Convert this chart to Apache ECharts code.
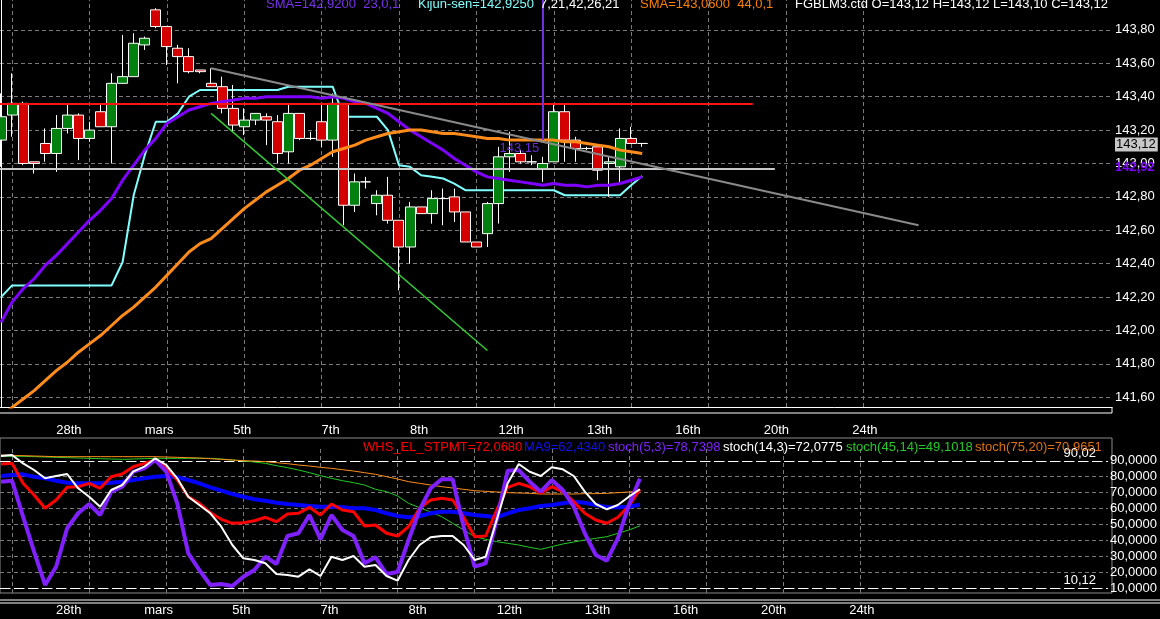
<!DOCTYPE html>
<html>
<head>
<meta charset="utf-8">
<script src="https://cdn.jsdelivr.net/npm/echarts@6/dist/echarts.min.js"></script>
<style>
  html, body { margin: 0; background: #000; }
  #chart { width: 1160px; height: 619px; }
</style>
</head>
<body>
<div id="chart"></div>
<script>
// time axis: bar slots 0..100, 59 traded bars, the rest is empty future space
const slotMin = -0.093;
const slotMax = 100.5;
const labelBars = [5, 13, 21, 29, 37, 45, 53, 61, 69, 77];
const dateLabels = ['28th', 'mars', '5th', '7th', '8th', '12th', '13th', '16th', '20th', '24th'];
const gridBars = [1, 8, 15, 22, 29, 36, 43, 50, 57, 64, 71, 78];

// FGBLM3 candles
const opens = [143.14,143.29,143.36,143.01,143.12,143.06,143.21,143.29,143.15,143.31,
  143.22,143.48,143.52,143.71,143.92,143.82,143.69,143.64,143.56,143.48,
  143.46,143.33,143.22,143.26,143.28,143.25,143.07,143.30,143.15,143.25,
  143.14,143.36,142.75,142.89,142.76,142.81,142.66,142.50,142.74,142.70,
  142.79,142.80,142.71,142.53,142.58,142.76,143.04,143.06,143.01,142.97,
  143.01,143.31,143.14,143.09,143.10,143.00,142.98,143.15,143.12];
const highs = [143.42,143.54,143.37,143.01,143.21,143.29,143.36,143.30,143.25,143.36,
  143.54,143.77,143.78,143.76,143.93,143.82,143.71,143.69,143.56,143.57,
  143.52,143.47,143.33,143.30,143.30,143.29,143.35,143.30,143.19,143.35,
  143.42,143.36,142.94,142.92,142.84,142.92,142.66,142.77,142.74,142.84,
  142.85,142.85,142.71,142.53,142.77,143.10,143.19,143.08,143.05,143.04,
  143.35,143.35,143.16,143.10,143.10,143.04,143.21,143.22,143.12];
const lows = [142.98,143.16,142.99,142.94,143.01,142.95,143.18,143.02,143.13,143.22,
  143.00,143.48,143.52,143.68,143.81,143.59,143.48,143.54,143.54,143.46,
  143.30,143.19,143.17,143.23,143.11,143.00,143.00,143.14,143.14,143.10,
  143.04,142.63,142.71,142.85,142.69,142.64,142.24,142.40,142.70,142.64,
  142.63,142.65,142.53,142.50,142.50,142.64,142.95,143.00,142.99,142.89,
  143.01,143.01,143.01,143.08,142.90,142.80,142.89,143.12,143.10];
const closes = [143.28,143.36,143.00,143.00,143.06,143.21,143.29,143.15,143.20,143.22,
  143.48,143.52,143.72,143.75,143.82,143.70,143.64,143.55,143.55,143.46,
  143.33,143.23,143.26,143.30,143.26,143.06,143.30,143.15,143.15,143.14,
  143.36,142.75,142.89,142.89,142.81,142.66,142.50,142.74,142.70,142.79,
  142.79,142.71,142.53,142.50,142.76,143.04,143.06,143.01,143.01,143.00,
  143.31,143.14,143.09,143.09,142.96,143.01,143.15,143.12,143.12];

// price overlays
const sma23 = [142.05,142.17,142.25,142.31,142.39,142.45,142.52,142.59,142.66,142.72,
  142.79,142.90,142.99,143.08,143.15,143.24,143.28,143.32,143.34,143.36,
  143.37,143.38,143.39,143.39,143.40,143.40,143.40,143.40,143.40,143.39,
  143.40,143.39,143.37,143.36,143.33,143.30,143.25,143.20,143.16,143.12,
  143.08,143.03,142.99,142.95,142.92,142.91,142.90,142.89,142.88,142.87,
  142.88,142.87,142.87,142.86,142.87,142.87,142.88,142.90,142.92];
const sma44 = [141.48,141.54,141.59,141.64,141.70,141.76,141.81,141.87,141.92,141.97,
  142.03,142.09,142.14,142.20,142.26,142.33,142.40,142.47,142.52,142.55,
  142.61,142.67,142.73,142.78,142.83,142.87,142.91,142.96,142.99,143.03,
  143.07,143.09,143.11,143.14,143.16,143.18,143.19,143.20,143.20,143.19,
  143.18,143.18,143.17,143.16,143.15,143.15,143.14,143.14,143.14,143.14,
  143.14,143.13,143.13,143.12,143.11,143.10,143.08,143.07,143.06];
const kijun = [142.20,142.27,142.27,142.27,142.27,142.27,142.27,142.27,142.27,142.27,
  142.27,142.41,142.81,143.05,143.25,143.25,143.30,143.40,143.44,143.44,
  143.44,143.44,143.44,143.44,143.44,143.44,143.46,143.46,143.46,143.46,
  143.46,143.28,143.28,143.28,143.28,143.20,142.99,142.98,142.93,142.92,
  142.91,142.88,142.84,142.84,142.84,142.84,142.84,142.84,142.84,142.84,
  142.84,142.81,142.81,142.81,142.81,142.81,142.81,142.87,142.925];
const resistance = 143.355;
const support = 142.97;

// oscillator pane
const whs = [87.99,88.41,75.83,68.49,60.13,65.35,73.33,73.71,75.83,72.70,
  80.00,81.70,86.29,88.41,90.50,85.28,77.92,67.42,63.27,57.36,
  53.21,50.69,51.07,52.33,54.47,51.70,56.54,56.98,60.75,55.91,
  62.83,59.06,57.99,48.99,49.62,44.40,42.70,48.55,60.13,65.35,
  66.42,65.35,54.47,42.26,42.70,59.06,73.33,75.83,73.71,69.56,
  73.71,70.57,64.28,56.98,52.77,50.69,54.47,61.57,72.07];
const ma9 = [80.44,81.07,81.49,80.00,78.99,77.48,76.23,75.83,75.83,75.83,
  76.23,76.86,77.92,78.99,80.00,80.44,79.62,77.92,75.83,73.33,
  71.21,69.12,67.42,65.79,64.91,63.65,62.83,62.20,61.57,61.13,
  61.13,60.75,60.13,60.13,59.06,56.98,55.28,54.47,55.28,56.98,
  57.99,57.99,56.98,55.91,55.28,54.47,56.98,59.06,60.13,61.57,
  62.20,63.27,64.28,63.65,62.20,60.75,60.75,61.13,62.43];
const stoch5 = [76.86,77.48,54.84,32.83,11.89,23.40,47.55,56.98,62.83,55.91,
  70.57,73.71,83.14,85.28,90.50,83.14,63.27,31.82,21.32,11.89,
  12.52,11.26,17.11,21.32,29.69,25.09,42.70,44.40,55.91,40.63,
  55.91,46.48,42.70,25.53,29.31,18.81,20.06,40.19,59.06,72.70,
  78.36,78.36,48.55,23.40,25.53,52.77,83.77,84.21,76.86,70.57,
  77.92,71.64,61.13,44.40,30.75,27.17,41.26,62.20,78.74];
const stoch14 = [93.02,93.65,88.41,84.21,78.99,80.44,81.70,72.70,67.42,61.13,
  71.64,74.78,83.14,86.29,91.57,87.36,78.99,67.42,62.20,56.98,
  48.55,37.04,28.68,27.61,25.53,18.81,18.18,17.11,21.76,17.55,
  29.69,27.61,30.13,23.40,24.47,17.55,14.59,27.61,37.04,41.89,
  42.70,42.70,37.04,27.61,29.69,52.77,75.83,87.99,83.14,80.44,
  85.91,84.65,80.44,70.57,62.83,59.50,62.20,67.42,72.08];
const stoch45 = [93.02,92.81,92.81,92.60,92.39,92.18,91.97,91.76,91.55,91.34,
  91.13,90.92,91.13,91.34,91.55,91.55,91.55,91.55,91.55,91.55,
  91.13,90.50,89.87,89.25,88.41,86.94,85.68,84.21,82.54,80.65,
  78.97,77.51,76.25,74.78,72.05,70.59,67.86,63.25,60.52,57.80,
  54.86,50.67,46.48,42.28,40.61,39.14,38.09,37.04,35.58,34.32,
  35.99,37.67,38.93,40.19,41.24,42.28,44.38,46.48,49.10];
const stoch75 = [93.65,93.44,93.23,93.02,92.81,92.60,92.60,92.60,92.60,92.60,
  92.60,92.60,92.60,92.60,92.60,92.39,92.18,91.97,91.76,91.34,
  90.92,90.50,90.08,89.87,89.46,88.83,88.20,87.36,86.73,85.89,
  85.26,84.42,83.58,82.54,81.49,80.02,78.55,76.88,75.83,74.78,
  73.73,72.89,72.05,71.21,70.80,70.38,69.96,69.75,69.54,69.12,
  69.12,69.12,69.12,69.33,69.33,69.54,69.96,70.38,70.97];
const obLevel = 90.02;
const osLevel = 10.12;

const font = "'Liberation Sans', Arial, sans-serif";
const comma = (v, d) => v.toFixed(d).replace('.', ',');
const indexed = arr => arr.map((v, i) => [i, v]);
const candles = opens.map((o, i) => [i, o, closes[i], lows[i], highs[i]]);
const dash = { color: '#7a7a7a', type: [4, 3], width: 1 };
const noLine = { color: 'rgba(0,0,0,0)', width: 1 };

function xAx(grid, margin) {
  return {
    type: 'value', gridIndex: grid, min: slotMin, max: slotMax,
    axisLine: { show: grid === 0, onZero: false, lineStyle: { color: '#fff' } },
    axisTick: { show: false },
    splitLine: { show: false },
    axisLabel: {
      color: '#fff', fontSize: 13, fontFamily: font, align: 'left', margin: margin,
      customValues: labelBars,
      formatter: v => dateLabels[labelBars.indexOf(Math.round(v))] || ''
    }
  };
}

function line(name, data, color, width, z, axis) {
  return {
    name: name, type: 'line', data: indexed(data), xAxisIndex: axis, yAxisIndex: axis,
    symbol: 'none', smooth: false, z: z, silent: true,
    lineStyle: { color: color, width: width }
  };
}

function priceTag(v, text, color, bg, offY, bold) {
  return {
    yAxis: v, lineStyle: noLine,
    label: {
      show: true, position: 'end', distance: 3, formatter: text, color: color,
      backgroundColor: bg || 'transparent', padding: bg ? [1, 2, 0, 1] : 0, fontSize: 13,
      fontFamily: font, fontWeight: bold ? 'bold' : 'normal', offset: [0, offY]
    }
  };
}

const kijunSeries = line('Kijun-sen', kijun, '#80ffff', 2, 1, 0);
kijunSeries.markLine = {
  silent: true, z: 1, symbol: ['none', 'none'], label: { show: false },
  data: gridBars.map(i => ({ xAxis: i, lineStyle: dash }))
};

const candleSeries = {
  name: 'FGBLM3.ctd', type: 'candlestick', data: candles, z: 2, barWidth: 10.5, silent: true,
  itemStyle: {
    color: '#00800f', color0: '#d40000', borderColor: '#ffffff', borderColor0: '#ffffff',
    borderColorDoji: '#ffffff', borderWidth: 1
  },
  markLine: {
    silent: true, z: 4, symbol: ['none', 'none'], label: { show: false },
    data: [
      [{ coord: [slotMin, resistance], lineStyle: { color: '#ff1414', width: 2, type: 'solid' } }, { coord: [68, resistance] }],
      [{ coord: [slotMin, support], lineStyle: { color: '#c8c8c8', width: 2, type: 'solid' } }, { coord: [70, support] }],
      [{ coord: [19, 143.57], lineStyle: { color: '#8a8a8a', width: 2, type: 'solid' } }, { coord: [83, 142.63] }],
      [{ coord: [19, 143.30], lineStyle: { color: '#33cc33', width: 1.5, type: 'solid' } }, { coord: [44, 141.88] }],
      [{ coord: [49, 143.14], lineStyle: { color: '#7030e0', width: 2, type: 'solid' } }, { coord: [49, 143.979] }],
      priceTag(143.06, '143,06', '#ff8c00', null, -8, false),
      priceTag(143.12, '143,12', '#000', '#c8c8c8', 1, false),
      priceTag(142.92, '142,92', '#8000ff', null, -9, true)
    ]
  },
  markPoint: {
    silent: true,
    data: [{
      coord: [49, 143.09], symbol: 'circle', symbolSize: 1, itemStyle: { color: 'rgba(0,0,0,0)' },
      label: { show: true, position: 'left', distance: 3, formatter: '143,15', color: '#6a2ad8', fontSize: 13, fontFamily: font }
    }]
  }
};

const stoch45Series = line('stoch(45,14)', stoch45, '#22cc22', 1, 1, 1);
stoch45Series.markLine = {
  silent: true, z: 1, symbol: ['none', 'none'], label: { show: false },
  data: gridBars.map(i => ({ xAxis: i, lineStyle: dash })).concat([
    { yAxis: obLevel, lineStyle: { color: '#fff', type: [10, 4], width: 1 },
      label: { show: true, position: 'insideEndTop', formatter: '90,02', color: '#fff', fontSize: 13, fontFamily: font, distance: [12, 1] } },
    { yAxis: osLevel, lineStyle: { color: '#fff', type: [10, 4], width: 1 },
      label: { show: true, position: 'insideEndTop', formatter: '10,12', color: '#fff', fontSize: 13, fontFamily: font, distance: [12, 1] } }
  ])
};

function headText(x, y, text, color) {
  return { type: 'text', x: x, y: y, silent: true, z: 10,
    style: { text: text, fill: color, font: '13px ' + font, verticalAlign: 'middle' } };
}

const chart = echarts.init(document.getElementById('chart'));
chart.setOption({
  backgroundColor: '#000',
  animation: false,
  textStyle: { fontFamily: font },
  grid: [
    { left: 0, right: 48, top: 0, height: 407, show: false },
    { left: 0, right: 48, top: 446, height: 147, show: false },
    { left: -2, right: 48, top: 438, height: 155, show: true, borderColor: '#8a8a8a', borderWidth: 1, backgroundColor: 'transparent' }
  ],
  xAxis: [
    xAx(0, 17),
    xAx(1, 11),
    { type: 'value', gridIndex: 2, show: false }
  ],
  yAxis: [
    {
      type: 'value', gridIndex: 0, position: 'right', min: 141.542, max: 143.979, splitNumber: 12,
      axisLine: { show: true, lineStyle: { color: '#fff' } }, axisTick: { show: false },
      axisLabel: { color: '#fff', fontSize: 13, margin: 3, showMinLabel: false, showMaxLabel: false,
        formatter: v => comma(v, 2) },
      splitLine: { show: true, showMinLine: false, showMaxLine: false, lineStyle: dash }
    },
    {
      type: 'value', gridIndex: 1, position: 'right', min: 6.855, max: 99.31, splitNumber: 9,
      axisLine: { show: false }, axisTick: { show: false },
      axisLabel: { color: '#fff', fontSize: 13, margin: 2, showMinLabel: false, showMaxLabel: false,
        formatter: v => comma(v, 4) },
      splitLine: { show: true, showMinLine: false, showMaxLine: false, lineStyle: dash }
    },
    { type: 'value', gridIndex: 2, show: false }
  ],
  series: [
    kijunSeries,
    candleSeries,
    line('SMA 23', sma23, '#8000ff', 3, 3, 0),
    line('SMA 44', sma44, '#ff8c1a', 3, 3, 0),
    stoch45Series,
    line('stoch(75,20)', stoch75, '#ff8c1a', 1, 1, 1),
    line('MA9', ma9, '#0000ff', 4, 2, 1),
    line('WHS_EL_STPMT', whs, '#ff0000', 3, 3, 1),
    line('stoch(5,3)', stoch5, '#8020ff', 4, 4, 1),
    line('stoch(14,3)', stoch14, '#ffffff', 2, 5, 1)
  ],
  graphic: [
    headText(266, 4, 'SMA=142,9200  23,0,1', '#7a30f0'),
    headText(418, 4, 'Kijun-sen=142,9250', '#80ffff'),
    headText(540, 4, '7,21,42,26,21', '#ffffff'),
    headText(640, 4, 'SMA=143,0600  44,0,1', '#ff8000'),
    headText(795, 4, 'FGBLM3.ctd O=143,12 H=143,12 L=143,10 C=143,12', '#ffffff'),
    headText(363, 447, 'WHS_EL_STPMT=72,0680', '#ff0000'),
    headText(524, 447, 'MA9=62,4340', '#1010ff'),
    headText(608, 447, 'stoch(5,3)=78,7398', '#8020ff'),
    headText(723, 447, 'stoch(14,3)=72,0775', '#ffffff'),
    headText(846, 447, 'stoch(45,14)=49,1018', '#22cc22'),
    headText(975, 447, 'stoch(75,20)=70,9651', '#e07010'),
    { type: 'line', silent: true, shape: { x1: 0, y1: 413, x2: 1112, y2: 413 }, style: { stroke: '#fff', lineWidth: 1 } },
    { type: 'line', silent: true, shape: { x1: 1112, y1: 407, x2: 1112, y2: 413 }, style: { stroke: '#fff', lineWidth: 1 } },
    { type: 'line', silent: true, shape: { x1: 0, y1: 600, x2: 1160, y2: 600 }, style: { stroke: '#fff', lineWidth: 1 } },
    { type: 'line', silent: true, shape: { x1: 0, y1: 603, x2: 1160, y2: 603 }, style: { stroke: '#fff', lineWidth: 1 } }
  ]
});
</script>
</body>
</html>
